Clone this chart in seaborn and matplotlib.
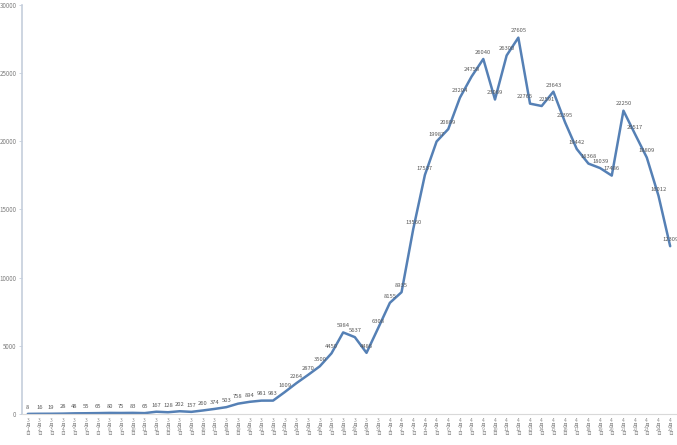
import re
import matplotlib
matplotlib.use("Agg")
import matplotlib.pyplot as plt
import seaborn as sns
import pandas as pd

# daily values
dates = [
    "3月1日", "3月2日", "3月3日", "3月4日", "3月5日", "3月6日", "3月7日", "3月8日",
    "3月9日", "3月10日", "3月11日", "3月12日", "3月13日", "3月14日", "3月15日", "3月16日",
    "3月17日", "3月18日", "3月19日", "3月20日", "3月21日", "3月22日", "3月23日", "3月24日",
    "3月25日", "3月26日", "3月27日", "3月28日", "3月29日", "3月30日", "3月31日",
    "4月1日", "4月2日", "4月3日", "4月4日", "4月5日", "4月6日", "4月7日", "4月8日",
    "4月9日", "4月10日", "4月11日", "4月12日", "4月13日", "4月14日", "4月15日", "4月16日",
    "4月17日", "4月18日", "4月19日", "4月20日", "4月21日", "4月22日", "4月23日", "4月24日",
    "4月25日",
]
values = [
    8, 16, 19, 28, 48, 55, 65, 80, 75, 83, 65, 167, 128, 202, 157, 260, 374, 503,
    758, 894, 981, 983, 1609, 2264, 2870, 3500, 4450, 5984, 5637, 4486, 6308, 8155,
    8935, 13560, 17537, 19987, 20899, 23204, 24758, 26040, 23069, 26300, 27605, 22765,
    22591, 23643, 21395, 19442, 18368, 18039, 17486, 22250, 20517, 18809, 16012, 12309,
]
y_ticks = [0, 5000, 10000, 15000, 20000, 25000, 30000]

df = pd.DataFrame({"pos": range(len(values)), "value": values})

sns.set_style("white")
plt.rcParams["font.family"] = ["Noto Sans CJK SC", "DejaVu Sans"]

fig = plt.figure(figsize=(6.77, 4.45), dpi=100)
ax = fig.add_axes([22 / 677, 31 / 445, 654 / 677, 409 / 445])

sns.lineplot(data=df, x="pos", y="value", ax=ax, color="#5580b5", linewidth=1.8)

# data labels above each point, nudge the two that collide
nudge = {43: -4, 44: 4}
for i, v in enumerate(values):
    ax.annotate(str(v), (i, v), xytext=(nudge.get(i, 0), 3), textcoords="offset points",
                ha="center", va="bottom", fontsize=4.2, color="#595959")


def stack(label):
    # vertical excel-style label, digits kept together
    return "\n".join(re.findall(r"\d+|\D", label))


ax.set_xlim(-0.5, len(values) - 0.5)
ax.set_ylim(0, 30000)
ax.set_yticks(y_ticks)
ax.set_yticklabels([str(t) for t in y_ticks], fontsize=4.5, color="#7f7f7f")
ax.set_xticks(range(len(dates)))
ax.set_xticklabels([stack(d) for d in dates], fontsize=3.5, color="#8c8c8c",
                   linespacing=0.85)
ax.tick_params(axis="x", length=0, pad=3)
ax.tick_params(axis="y", length=2, width=0.6, color="#c5cedc", pad=2, left=True)
ax.set_xlabel("")
ax.set_ylabel("")

for side in ["top", "right"]:
    ax.spines[side].set_visible(False)
ax.spines["left"].set_color("#c5cedc")
ax.spines["left"].set_linewidth(1.2)
ax.spines["bottom"].set_color("#d9d9d9")
ax.spines["bottom"].set_linewidth(0.8)

fig.savefig("out.png", dpi=100)
